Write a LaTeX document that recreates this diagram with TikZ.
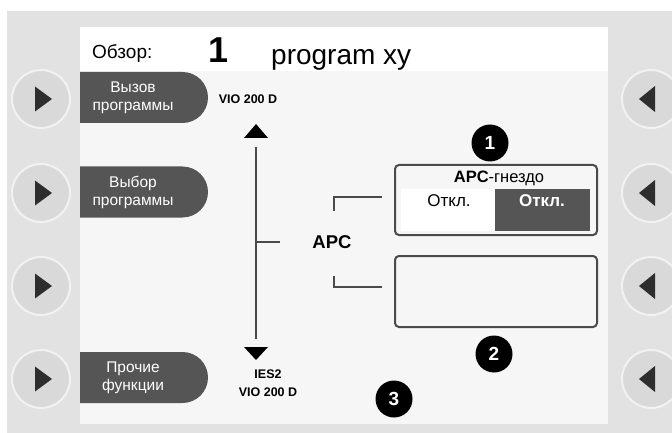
\documentclass[tikz,border=0pt]{standalone}
\usepackage{fontspec}
\setmainfont{Liberation Sans}
\usepackage{tikz}
\usetikzlibrary{shapes.misc}
\usetikzlibrary{positioning}

\definecolor{framegray}{HTML}{E2E2E2}
\definecolor{screengray}{HTML}{F6F6F6}
\definecolor{keygray}{HTML}{D9D9D9}
\definecolor{rimgray}{HTML}{F2F2F2}
\definecolor{tabgray}{HTML}{555555}
\definecolor{linegray}{HTML}{4A4A4A}
\definecolor{arrowgray}{HTML}{2E2E2E}

\begin{document}
\begin{tikzpicture}[x = 1pt, y = -1pt,
    softkey/.style = {circle, minimum size = 58pt, inner sep = 0pt,
        fill = keygray, draw = rimgray, line width = 2pt},
    tabkey/.style = {rounded rectangle, rounded rectangle left arc = none,
        fill = tabgray, minimum width = 128pt, minimum height = 51pt, inner sep = 0pt},
    tabtext/.style = {text = white, align = center, inner sep = 0pt,
        font = \fontsize{15.5}{18}\selectfont},
    tagtext/.style = {align = center, inner sep = 0pt,
        font = \fontsize{12.5}{18}\selectfont\bfseries},
    rail/.style = {linegray, line width = 2pt},
    slotbox/.style = {draw = linegray, line width = 2pt, rounded corners = 4pt,
        minimum width = 202pt, inner sep = 0pt},
    celltext/.style = {inner sep = 0pt, font = \fontsize{17}{17}\selectfont},
    badge/.style = {circle, fill = black, text = white, minimum size = 37pt,
        inner sep = 0pt, font = \fontsize{19}{19}\selectfont\bfseries}]

    %% frame
    \useasboundingbox (0, 0) rectangle (672, 433);
    \fill[white] (0, 0) rectangle (672, 433);
    \fill[framegray] (7, 11) rectangle (672, 433);
    \fill[screengray] (80, 27) rectangle (608, 424);
    \fill[white] (80, 27) rectangle (608, 71);

    %% soft keys
    \foreach \y [count = \i] in {99, 193, 286, 379} {
        \node[softkey] (kl\i) at (41, \y) {};
        \fill[arrowgray] (kl\i.center) ++(-6, -12.5) -- ++(17, 12.5) -- ++(-17, 12.5) -- cycle;
        \node[softkey] (kr\i) at (651, \y) {};
        \fill[arrowgray] (kr\i.center) ++(4, -13) -- ++(-16, 13) -- ++(16, 13) -- cycle;
    }

    %% tabs
    \node[tabkey] (tab1) at (144, 97.5) {};
    \node[tabtext] (tab1txt) at (133, 97.5) {Вызов\\программы};
    \node[tabkey] (tab2) at (144, 192) {};
    \node[tabtext] (tab2txt) at (133, 192) {Выбор\\программы};
    \node[tabkey] (tab4) at (144, 377.5) {};
    \node[tabtext] (tab4txt) at (133, 377.5) {Прочие\\функции};

    %% header
    \node[anchor = base west, inner sep = 0pt, font = \fontsize{19}{19}\selectfont]
        (title) at (92, 59) {Обзор:};
    \node[anchor = base west, inner sep = 0pt, font = \fontsize{36}{36}\selectfont\bfseries]
        (prognr) at (208, 63) {1};
    \node[anchor = base west, inner sep = 0pt, font = \fontsize{28}{28}\selectfont]
        (progname) at (271, 65) {program xy};

    %% scale
    \node[tagtext] (srctop) at (248, 99) {VIO 200 D};
    \fill[black] (256, 124) -- (268, 138) -- (244, 138) -- cycle;
    \coordinate (railtop) at (256, 147);
    \coordinate (railbot) at (256, 339);
    \coordinate (railmid) at (256, 242);
    \draw[rail] (railtop) -- (railbot);
    \fill[black] (244, 347) -- (268, 347) -- (256, 360) -- cycle;
    \node[tagtext] (srcbot) at (268, 383) {IES2\\VIO 200 D};

    %% APC
    \node[inner sep = 0pt, font = \fontsize{18.5}{18.5}\selectfont\bfseries]
        (apc) at (332, 242) {APC};
    \coordinate (apcstub) at (280, 242);
    \draw[rail] (railmid) -- (apcstub);
    \draw[rail] (334, 211) |- (382, 197);
    \draw[rail] (334, 276) |- (382, 287);

    %% slots
    \node[slotbox, minimum height = 70pt] (slot1) at (496, 200) {};
    \fill[white] (401, 189) rectangle (495, 231);
    \fill[tabgray] (495, 189) rectangle (590, 231);
    \node[inner sep = 0pt, font = \fontsize{16.5}{16.5}\selectfont]
        (slot1title) at (499, 178) {\textbf{APC}-гнездо};
    \node[celltext] (offleft) at (449, 201) {Откл.};
    \node[celltext, text = white, font = \fontsize{17}{17}\selectfont\bfseries]
        (offright) at (542, 201) {Откл.};
    \node[slotbox, minimum height = 71pt] (slot2) at (496, 291.5) {};

    %% badges
    \node[badge] (badge1) at (490, 143) {1};
    \node[badge] (badge2) at (494, 354) {2};
    \node[badge] (badge3) at (394, 399) {3};
\end{tikzpicture}
\end{document}
